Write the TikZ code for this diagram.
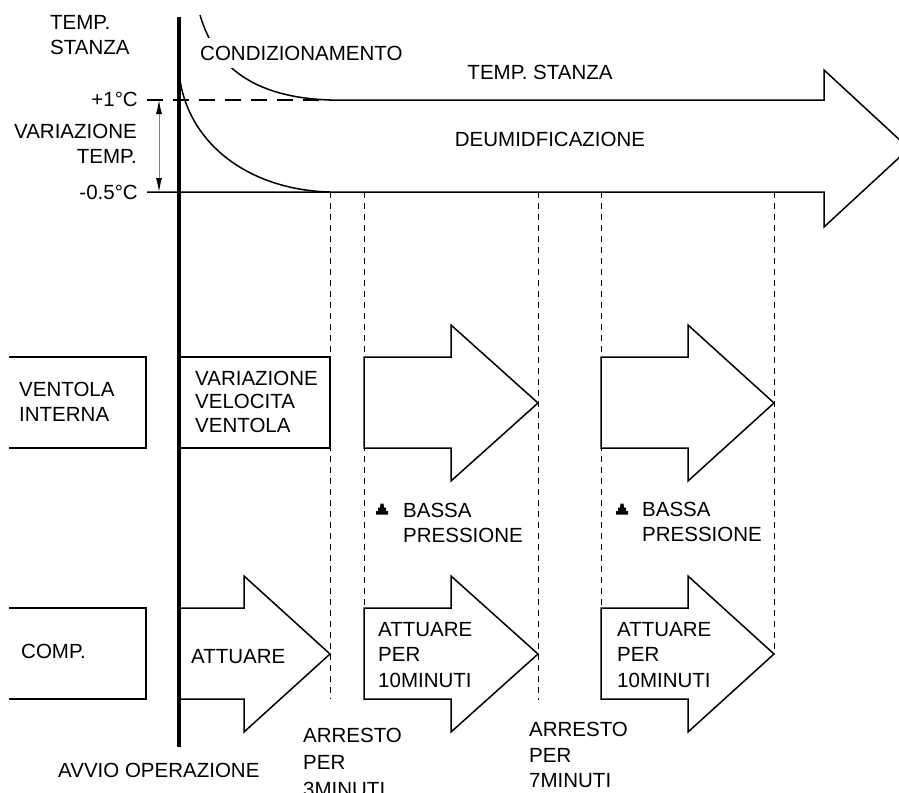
\documentclass[tikz,border=0pt]{standalone}
\usepackage{fontspec}
\setmainfont{Liberation Sans}
\usetikzlibrary{arrows.meta}
\tikzset{
  ln/.style={line width=1.5pt, line join=miter},
  dsh/.style={line width=1pt, dash pattern=on 6pt off 5pt},
  lbl/.style={inner sep=0pt, font=\fontsize{20.5}{25}\selectfont, align=left},
  lblr/.style={lbl, align=right},
  dtip/.style={Latex[length=14pt,width=6pt,color=black]},
  bsym/.pic={\fill (-6,5.5) -- (6,5.5) -- (6,2) -- (4,2) -- (4,-1.5) -- (2,-1.5) -- (1.5,-5.5) -- (-1.5,-5.5) -- (-2,-1.5) -- (-4,-1.5) -- (-4,2) -- (-6,2) -- cycle;}
}
\begin{document}
\begin{tikzpicture}[x=1pt,y=-1pt]
\useasboundingbox (0,0) rectangle (899,792);
% key points
\coordinate (p1L) at (147,100);
\coordinate (p1M) at (330,100);
\coordinate (m05L) at (147,192);
\coordinate (m05M) at (330,192);
\coordinate (daT) at (159,100);
\coordinate (daB) at (159,192);
\coordinate (axT) at (179,17);
\coordinate (axB) at (179,747);

% big arrow (room temperature)
\draw[ln] (m05L) -- (824,192) -- (824,227) -- (909,148.5) -- (824,70) -- (824,100) -- (p1M);
\draw[ln, dash pattern=on 16pt off 10pt] (p1L) -- (p1M);

% curves
\draw[ln] (180,80) .. controls (190,145) and (250,190) .. (m05M);
\draw[ln] (200,15) .. controls (212,55) and (240,97) .. (p1M);

% double arrow
\draw[gray, line width=1pt, {Latex[length=14pt,width=6pt,color=black]}-{Latex[length=14pt,width=6pt,color=black]}] (daT) -- (daB);

% dashed verticals
\draw[dsh] (330,192) -- (330,699);
\draw[dsh] (364,192) -- (364,608);
\draw[dsh] (538,192) -- (538,700);
\draw[dsh] (601,192) -- (601,608);
\draw[dsh] (774,192) -- (774,654);

% ventola row
\draw[ln] (9,357) -- (146,357) -- (146,448) -- (9,448);
\draw[ln] (179,357) -- (330,357) -- (330,448) -- (179,448);
\draw[ln] (364,357) -- (451,357) -- (451,325) -- (538,403) -- (451,481) -- (451,448) -- (364,448) -- cycle;
\draw[ln] (601,357) -- (688,357) -- (688,325) -- (774,403) -- (688,481) -- (688,448) -- (601,448) -- cycle;

% compressor row
\draw[ln] (9,608) -- (146,608) -- (146,699) -- (9,699);
\draw[ln] (179,608) -- (244,608) -- (244,576) -- (330,654) -- (244,732) -- (244,699) -- (179,699);
\draw[ln] (364,608) -- (451,608) -- (451,576) -- (538,654) -- (451,732) -- (451,699) -- (364,699) -- cycle;
\draw[ln] (601,608) -- (688,608) -- (688,576) -- (774,654) -- (688,732) -- (688,699) -- (601,699) -- cycle;

% thick axis
\draw[line width=4pt] (axT) -- (axB);

% symbols
\pic at (382,509) {bsym};
\pic at (622,509) {bsym};

% labels
\node[lbl, anchor=west] (tstanza) at (50,35.5) {TEMP.\\STANZA};
\node[lblr, anchor=east] (plus1) at (138,99) {+1°C};
\node[lblr, anchor=east] (vartemp) at (137,144) {VARIAZIONE\\TEMP.};
\node[lblr, anchor=east] (minus05) at (138,192) {-0.5°C};
\node[lbl, anchor=west, fill=white, inner xsep=2pt, inner ysep=8pt] (cond) at (198,53) {CONDIZIONAMENTO};
\node[lbl] (tstanza2) at (540,72) {TEMP. STANZA};
\node[lbl] (deum) at (550,139) {DEUMIDFICAZIONE};
\node[lbl, anchor=west] (vint) at (19,401.5) {VENTOLA\\INTERNA};
\node[lbl, anchor=west, font=\fontsize{20.5}{23.5}\selectfont] (vvv) at (195,401.5) {VARIAZIONE\\VELOCITA\\VENTOLA};
\node[lbl, anchor=west] (bp1) at (403,523) {BASSA\\PRESSIONE};
\node[lbl, anchor=west] (bp2) at (642,522) {BASSA\\PRESSIONE};
\node[lbl, anchor=west] (comp) at (21,651) {COMP.};
\node[lbl, anchor=west] (att1) at (191,657) {ATTUARE};
\node[lbl, anchor=west, font=\fontsize{20.5}{25.5}\selectfont] (att2) at (378,655) {ATTUARE\\PER\\10MINUTI};
\node[lbl, anchor=west, font=\fontsize{20.5}{25.5}\selectfont] (att3) at (617,655) {ATTUARE\\PER\\10MINUTI};
\node[lbl, anchor=west, font=\fontsize{20.5}{27}\selectfont] (arr3) at (303,762) {ARRESTO\\PER\\3MINUTI};
\node[lbl, anchor=west, font=\fontsize{20.5}{25.5}\selectfont] (arr7) at (529,755) {ARRESTO\\PER\\7MINUTI};
\node[lbl, anchor=west] (avvio) at (58,770) {AVVIO OPERAZIONE};
\end{tikzpicture}
\end{document}
